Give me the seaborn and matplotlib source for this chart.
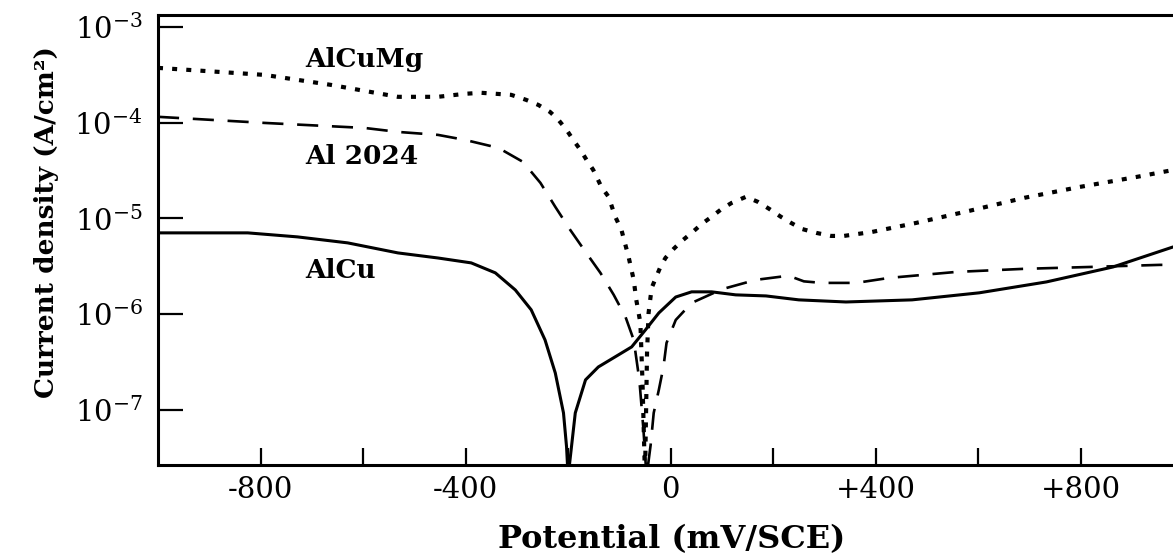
import numpy as np
import pandas as pd
import seaborn as sns
import matplotlib.pyplot as plt
from matplotlib.ticker import LogFormatterMathtext, NullLocator

# potentiodynamic polarisation curves, potential in mV/SCE, current in A/cm2
alcu_mv = [-1000, -825, -728, -630, -532, -454, -389, -342, -303, -272, -245, -225, -209,
           -203, -200,
           -186, -166, -141, -102, -76, -49, -23, 10, 41, 80, 127, 186, 250, 342, 471,
           602, 733, 863, 980]
alcu_i = [7.06e-6, 7.06e-6, 6.41e-6, 5.55e-6, 4.36e-6, 3.86e-6, 3.43e-6, 2.70e-6, 1.79e-6,
          1.11e-6, 5.38e-7, 2.43e-7, 9.3e-8, 4.1e-8, 2e-8,
          9.3e-8, 2.06e-7, 2.81e-7, 3.75e-7, 4.55e-7, 6.86e-7, 1.03e-6, 1.51e-6,
          1.71e-6, 1.71e-6, 1.59e-6, 1.55e-6, 1.41e-6, 1.34e-6, 1.41e-6, 1.67e-6, 2.17e-6,
          3.11e-6, 5.03e-6]

al2024_mv = [-1000, -792, -597, -532, -454, -401, -336, -288, -254, -225, -196, -166, -137,
             -111, -88, -72, -61, -53, -47,
             -39, -33, -23, -14, -8, 10, 41, 100, 166, 230, 260, 295, 362, 426, 557, 687,
             818, 954, 980]
al2024_i = [1.15e-4, 9.93e-5, 8.8e-5, 8.0e-5, 7.45e-5, 6.6e-5, 5.45e-5, 3.89e-5, 2.35e-5,
            1.32e-5, 7.6e-6, 4.47e-6, 2.70e-6, 1.59e-6, 9.35e-7, 5.38e-7, 2.06e-7, 6.2e-8,
            2e-8,
            4.3e-8, 9.3e-8, 1.62e-7, 2.81e-7, 5.0e-7, 8.7e-7, 1.31e-6, 1.82e-6, 2.28e-6,
            2.52e-6, 2.2e-6, 2.12e-6, 2.12e-6, 2.39e-6, 2.76e-6, 2.97e-6, 3.11e-6, 3.27e-6,
            3.27e-6]

alcumg_mv = [-1000, -792, -663, -532, -454, -401, -370, -311, -282, -258, -235, -219, -203,
             -190, -176, -164, -151, -135, -121, -108, -96, -82, -72, -67, -59, -55, -50,
             -46, -43, -37, -20, -10, 6, 22, 41, 61, 80, 100, 119, 147, 170, 192, 215, 235,
             256, 284, 313, 338, 393, 479, 583, 690, 798, 909, 980]
alcumg_i = [3.73e-4, 3.15e-4, 2.48e-4, 1.86e-4, 1.86e-4, 2.0e-4, 2.05e-4, 1.95e-4, 1.73e-4,
            1.53e-4, 1.29e-4, 1.07e-4, 8.4e-5, 6.6e-5, 5.19e-5, 4.08e-5, 3.21e-5, 2.13e-5,
            1.68e-5, 1.04e-5, 7.6e-6, 3.96e-6, 2.28e-6, 1.41e-6, 8.1e-7, 2.06e-7, 2e-8,
            4e-7, 1.03e-6, 1.88e-6, 3.11e-6, 3.87e-6, 4.81e-6, 5.82e-6, 7.06e-6, 8.77e-6,
            1.04e-5, 1.26e-5, 1.45e-5, 1.68e-5, 1.49e-5, 1.26e-5, 1.04e-5, 8.97e-6, 7.76e-6,
            7.06e-6, 6.56e-6, 6.56e-6, 7.22e-6, 8.97e-6, 1.2e-5, 1.64e-5, 2.13e-5, 2.71e-5,
            3.2e-5]

xtick_pos = [-800, -400, 0, 400, 800]
xtick_labels = ['-800', '-400', '0', '+400', '+800']
ytick_pos = [1e-7, 1e-6, 1e-5, 1e-4, 1e-3]

sns.set_theme(style='white')
plt.rcParams['font.family'] = ['DejaVu Serif']
plt.rcParams['mathtext.fontset'] = 'dejavuserif'
for key in ['text.color', 'axes.labelcolor', 'xtick.color', 'ytick.color']:
    plt.rcParams[key] = 'black'

fig = plt.figure(figsize=(11.73, 5.56), dpi=100)
ax = fig.add_axes([0.1347, 0.1637, 0.8653, 0.8093])

sns.lineplot(x=alcu_mv, y=alcu_i, ax=ax, color='black', lw=2.2, sort=False)
sns.lineplot(x=al2024_mv, y=al2024_i, ax=ax, color='black', lw=1.9,
             linestyle=(0, (8, 5.2)), sort=False)
sns.lineplot(x=alcumg_mv, y=alcumg_i, ax=ax, color='black', lw=3.0,
             linestyle=(0, (1.2, 2.2)), sort=False)

ax.set_yscale('log')
ax.set_xlim(-1000, 980)
ax.set_ylim(2.66e-8, 1.33e-3)

ax.set_xticks(xtick_pos, labels=xtick_labels)
ax.set_xticks([-600, -200, 200, 600], minor=True)
ax.set_yticks(ytick_pos)
ax.yaxis.set_major_formatter(LogFormatterMathtext())
ax.yaxis.set_minor_locator(NullLocator())

ax.tick_params(axis='x', which='both', direction='in', length=12, width=1.6,
               labelsize=21, pad=8, color='black', bottom=True)
ax.tick_params(axis='y', which='major', direction='in', length=18, width=1.6,
               labelsize=21, pad=11, color='black', left=True)

for side in ['left', 'bottom', 'top']:
    ax.spines[side].set_color('black')
    ax.spines[side].set_linewidth(2.2)
ax.spines['right'].set_visible(False)

ax.set_xlabel('Potential (mV/SCE)', fontsize=23, fontweight='bold')
ax.xaxis.set_label_coords(0.506, -0.132)
ax.set_ylabel('Current density (A/cm²)', fontsize=19, fontweight='bold')
ax.yaxis.set_label_coords(-0.098, 0.54)

ax.text(-712, 3.82e-4, 'AlCuMg', fontsize=19, fontweight='bold', va='baseline')
ax.text(-712, 3.71e-5, 'Al 2024', fontsize=19, fontweight='bold', va='baseline')
ax.text(-712, 2.39e-6, 'AlCu', fontsize=19, fontweight='bold', va='baseline')

fig.savefig('out.png', dpi=100)
